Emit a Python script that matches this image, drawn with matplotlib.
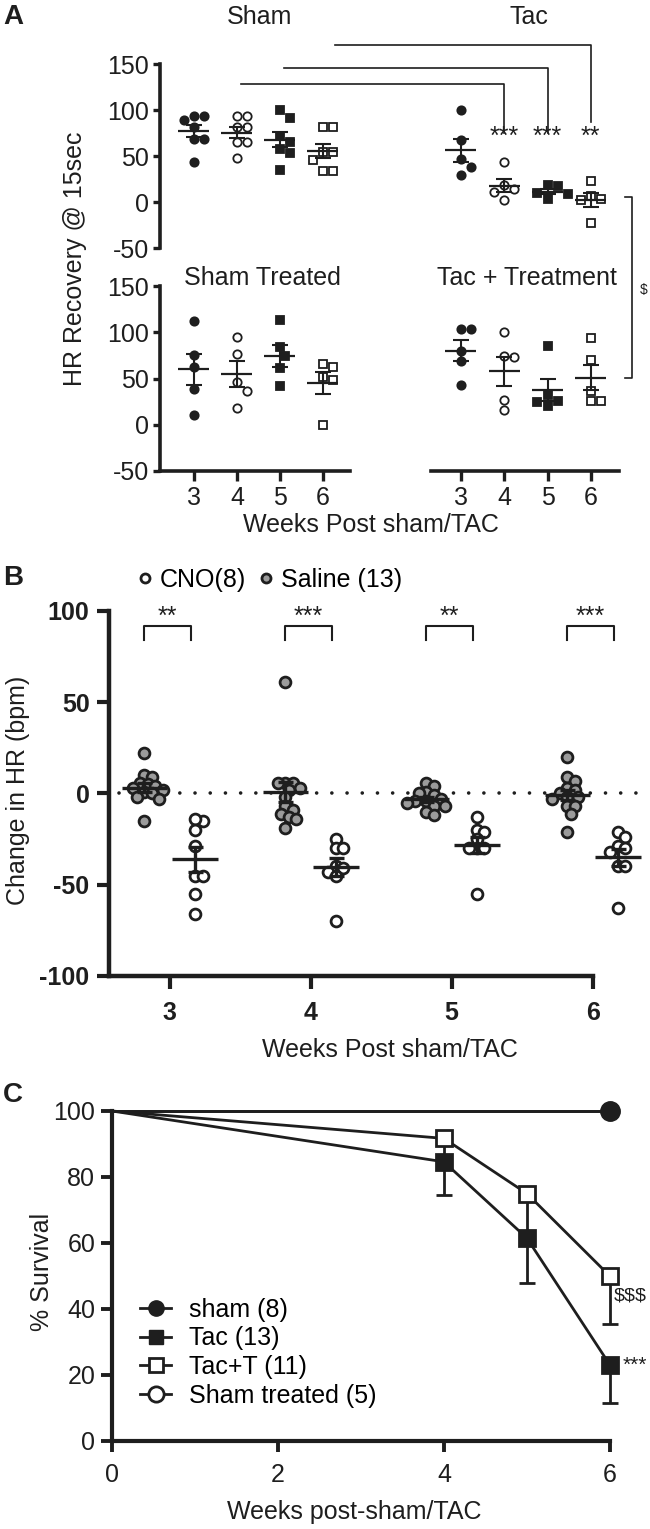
import numpy as np
import matplotlib
matplotlib.use('Agg')
import matplotlib.pyplot as plt
from matplotlib.lines import Line2D

plt.rcParams['font.family'] = ['Liberation Sans', 'DejaVu Sans']
plt.rcParams['axes.unicode_minus'] = False

# ---------------- data ----------------
weeks = [3, 4, 5, 6]

# Panel A: HR recovery @ 15 sec, one list per week
sham_hr = [[94, 94, 89, 82, 69, 69, 44],
           [94, 94, 81, 81, 65, 65, 48],
           [100, 91, 72, 65, 58, 53, 35],
           [82, 82, 54, 54, 46, 34, 34]]
tac_hr = [[100, 67, 47, 38, 29],
          [44, 18, 14, 11, 2],
          [18, 17, 10, 9, 3],
          [23, 6, 3, 2, -23]]
sham_treated_hr = [[112, 75, 62, 39, 11],
                   [95, 77, 46, 37, 18],
                   [113, 84, 74, 61, 42],
                   [66, 62, 52, 48, 0]]
tac_treat_hr = [[104, 104, 80, 69, 43],
                [100, 74, 73, 27, 16],
                [85, 32, 26, 25, 20],
                [94, 70, 37, 26, 26]]
a_titles = ['Sham', 'Tac', 'Sham Treated', 'Tac + Treatment']
a_comp_weeks = [4, 5, 6]
a_comp_stars = ['***', '***', '**']

# Panel B: change in HR
saline_dhr = [[22, 10, 9, 6, 5, 4, 3, 2, 1, 0, -2, -3, -15],
              [61, 6, 6, 6, 3, 2, -2, -7, -9, -11, -13, -14, -19],
              [6, 4, 1, 0, -1, -3, -4, -4, -5, -7, -7, -10, -12],
              [20, 9, 7, 3, 2, 0, -2, -2, -3, -7, -7, -11, -21]]
cno_dhr = [[-15, -14, -20, -29, -45, -45, -55, -66],
           [-25, -30, -30, -40, -41, -43, -45, -70],
           [-13, -20, -21, -25, -30, -30, -30, -55],
           [-21, -24, -29, -30, -32, -40, -40, -63]]
b_stars = ['**', '***', '**', '***']
b_labels = ['CNO(8)', 'Saline (13)']

# Panel C: survival
c_weeks = [0, 4, 5, 6]
tac_surv = [100, 84.6, 61.5, 23.1]
tac_err = [0, 10.0, 13.5, 11.7]
tact_surv = [100, 91.7, 75.0, 50.0]
tact_err = [0, 8.0, 12.5, 14.4]
sham_weeks = [0, 6]
sham_surv = [100, 100]
sham_treated_surv = [100, 100]
c_labels = ['sham (8)', 'Tac (13)', 'Tac+T (11)', 'Sham treated (5)']

# ---------------- layout ----------------
W, H = 650, 1529
fig = plt.figure(figsize=(W / 100, H / 100), dpi=100)
INK = '#1e1e1e'
GRAY = '#9b9b9b'


def box(x0, y0, x1, y1):
    return [x0 / W, 1 - y1 / H, (x1 - x0) / W, (y1 - y0) / H]


def fx(px):
    return px / W


def fy(py):
    return 1 - py / H


def swarm(vals, center, px_x, px_y, spacing):
    vals = np.asarray(vals, float)
    order = np.argsort(-vals)
    placed = []
    xs = np.zeros(len(vals))
    for i in order:
        y = vals[i] * px_y
        chosen = 0.0
        found = False
        for k in range(0, 30):
            cands = [0.0] if k == 0 else [k * spacing * 0.5, -k * spacing * 0.5]
            for c in cands:
                if all((c - px) ** 2 + (y - py) ** 2 >= (spacing * 0.98) ** 2 for px, py in placed):
                    chosen = c
                    found = True
                    break
            if found:
                break
        placed.append((chosen, y))
        xs[i] = center + chosen / px_x
    return xs


def to_fig(ax, x, y):
    return fig.transFigure.inverted().transform(ax.transData.transform((x, y)))


# ---------------- Panel A ----------------
axTL = fig.add_axes(box(160, 64, 350, 248))
axTR = fig.add_axes(box(431, 64, 619, 248))
axBL = fig.add_axes(box(160, 286, 350, 471))
axBR = fig.add_axes(box(431, 286, 619, 471))
for ax in (axTL, axTR, axBL, axBR):
    ax.set_ylim(-50, 150)
    ax.patch.set_alpha(0)
    for s in ax.spines.values():
        s.set_visible(False)
        s.set_linewidth(2.6)
        s.set_color(INK)
    ax.tick_params(colors=INK, labelsize=18, width=2.4, length=5, pad=3)
    ax.set_yticks([-50, 0, 50, 100, 150])
    ax.set_xticks(weeks)
for ax in (axTL, axBL):
    ax.set_xlim(2.21, 6.63)
for ax in (axTR, axBR):
    ax.set_xlim(2.31, 6.65)
axTL.spines['left'].set_visible(True)
axBL.spines['left'].set_visible(True)
axBL.spines['bottom'].set_visible(True)
axBR.spines['bottom'].set_visible(True)
axTL.tick_params(bottom=False, labelbottom=False)
axTR.tick_params(bottom=False, labelbottom=False, left=False, labelleft=False)
axBR.tick_params(left=False, labelleft=False)
for ax in (axBL, axBR):
    ax.tick_params(axis='x', length=7, pad=4)

week_style = {3: ('o', INK, 6.0), 4: ('o', 'white', 6.0), 5: ('s', INK, 5.4), 6: ('s', 'white', 5.4)}


def draw_a(ax, data):
    for w, vals in zip(weeks, data):
        mk, fc, ms = week_style[w]
        xs = swarm(vals, w, 43.0, 0.92, 10.0)
        ax.plot(xs, vals, ls='none', marker=mk, ms=ms, mfc=fc, mec=INK, mew=1.3, zorder=3, clip_on=False)
        m = np.mean(vals)
        s = np.std(vals, ddof=1) / np.sqrt(len(vals))
        ax.hlines(m, w - 0.36, w + 0.36, color=INK, lw=1.6, zorder=4)
        ax.errorbar([w], [m], yerr=[s], fmt='none', ecolor=INK, elinewidth=1.5,
                    capsize=5.8, capthick=1.5, zorder=4)


draw_a(axTL, sham_hr)
draw_a(axTR, tac_hr)
draw_a(axBL, sham_treated_hr)
draw_a(axBR, tac_treat_hr)

# comparison brackets Sham vs Tac
br_start = [4.1, 5.1, 6.28]
br_level = [128, 146, 171]
br_drop = [75, 75, 87]
for w, xs0, lv, dr, st in zip(a_comp_weeks, br_start, br_level, br_drop, a_comp_stars):
    p0 = to_fig(axTL, xs0, lv)
    p1 = to_fig(axTR, w, lv)
    p2 = to_fig(axTR, w, dr)
    fig.add_artist(Line2D([p0[0], p1[0], p2[0]], [p0[1], p1[1], p2[1]], color=INK, lw=1.2))
    axTR.text(w, 71, st, ha='center', va='center', fontsize=18, color=INK)

# $ bracket Tac vs Tac+T at week 6
q0 = to_fig(axTR, 6.78, 5)
q1 = to_fig(axTR, 6.96, 5)
q2 = to_fig(axBR, 6.96, 51)
q3 = to_fig(axBR, 6.78, 51)
fig.add_artist(Line2D([q0[0], q1[0], q2[0], q3[0]], [q0[1], q1[1], q2[1], q3[1]], color=INK, lw=1.2))
fig.text(fx(644), fy(290), '$', fontsize=10, ha='center', va='center', color=INK)

fig.text(fx(260), fy(17), a_titles[0], fontsize=18, ha='center', va='center', color=INK)
fig.text(fx(529), fy(17), a_titles[1], fontsize=18, ha='center', va='center', color=INK)
fig.text(fx(262), fy(278), a_titles[2], fontsize=18, ha='center', va='center', color=INK)
fig.text(fx(527), fy(278), a_titles[3], fontsize=18, ha='center', va='center', color=INK)
fig.text(fx(75), fy(259), 'HR Recovery @ 15sec', rotation=90, fontsize=18, ha='center', va='center', color=INK)
fig.text(fx(371), fy(525), 'Weeks Post sham/TAC', fontsize=18, ha='center', va='center', color=INK)
fig.text(fx(13), fy(17), 'A', fontsize=20, fontweight='bold', ha='center', va='center', color=INK)

# ---------------- Panel B ----------------
axB = fig.add_axes(box(109, 611, 649, 976))
axB.set_xlim(2.57, 6.4)
axB.set_ylim(-100, 100)
axB.patch.set_alpha(0)
for k in ('top', 'right'):
    axB.spines[k].set_visible(False)
for k in ('left', 'bottom'):
    axB.spines[k].set_linewidth(3.2)
    axB.spines[k].set_color(INK)
axB.spines['bottom'].set_bounds(2.57, 6.0)
axB.set_xticks(weeks)
axB.set_yticks([-100, -50, 0, 50, 100])
axB.tick_params(colors=INK, width=3, length=9, labelsize=18, pad=5)
axB.tick_params(axis='x', pad=9)
for lab in axB.get_xticklabels() + axB.get_yticklabels():
    lab.set_fontweight('bold')

axB.plot([2.64, 6.4], [0, 0], ls=(0, (0.01, 4.2)), lw=2.6, color=INK,
         dash_capstyle='round', zorder=1, clip_on=False)

for w, sv, cv, st in zip(weeks, saline_dhr, cno_dhr, b_stars):
    for vals, off, fc in ((sv, -0.18, GRAY), (cv, 0.18, 'white')):
        xs = swarm(vals, w + off, 141.0, 1.83, 7.5)
        axB.plot(xs, vals, ls='none', marker='o', ms=7.8, mfc=fc, mec=INK, mew=2.0, zorder=3, clip_on=False)
        m = np.mean(vals)
        s = np.std(vals, ddof=1) / np.sqrt(len(vals))
        axB.hlines(m, w + off - 0.16, w + off + 0.16, color=INK, lw=2.4, zorder=4)
        axB.errorbar([w + off], [m], yerr=[s], fmt='none', ecolor=INK, elinewidth=2.4,
                     capsize=5.4, capthick=2.4, zorder=4)
    axB.plot([w - 0.18, w - 0.18, w + 0.15, w + 0.15], [84, 92, 92, 84], color=INK, lw=1.5)
    axB.text(w - 0.015, 97, st, ha='center', va='center', fontsize=18, color=INK)

hB = [Line2D([], [], ls='none', marker='o', ms=6.5, mfc='white', mec=INK, mew=2.0),
      Line2D([], [], ls='none', marker='o', ms=6.5, mfc=GRAY, mec=INK, mew=2.0)]
fig.legend(hB, b_labels, loc='center left', bbox_to_anchor=(fx(137), fy(580)), ncol=2,
           frameon=False, fontsize=18, handlelength=0.6, handletextpad=0.3,
           columnspacing=0.5, borderpad=0, borderaxespad=0)
fig.text(fx(18), fy(790), 'Change in HR (bpm)', rotation=90, fontsize=18, ha='center', va='center', color=INK)
fig.text(fx(390), fy(1050), 'Weeks Post sham/TAC', fontsize=18, ha='center', va='center', color=INK)
fig.text(fx(13), fy(578), 'B', fontsize=20, fontweight='bold', ha='center', va='center', color=INK)

# ---------------- Panel C ----------------
axC = fig.add_axes(box(112, 1111, 643, 1441))
axC.set_xlim(0, 6.4)
axC.set_ylim(0, 100)
axC.patch.set_alpha(0)
for k in ('top', 'right'):
    axC.spines[k].set_visible(False)
for k in ('left', 'bottom'):
    axC.spines[k].set_linewidth(3.0)
    axC.spines[k].set_color(INK)
axC.spines['bottom'].set_bounds(0, 6)
axC.set_xticks([0, 2, 4, 6])
axC.set_yticks([0, 20, 40, 60, 80, 100])
axC.tick_params(colors=INK, width=2.8, length=8, labelsize=18, pad=4)
axC.tick_params(axis='x', pad=8)

axC.plot(sham_weeks, sham_treated_surv, color=INK, lw=2.0, marker='o', ms=13, mfc='white',
         mec=INK, mew=2, markevery=[1], clip_on=False, zorder=2)
axC.plot(sham_weeks, sham_surv, color=INK, lw=2.0, marker='o', ms=13, mfc=INK,
         mec=INK, markevery=[1], clip_on=False, zorder=3)
axC.errorbar(c_weeks[1:], tac_surv[1:], yerr=[tac_err[1:], [0] * 3], fmt='none', ecolor=INK,
             elinewidth=2.0, capsize=6, capthick=2.0, zorder=2)
axC.errorbar(c_weeks[1:], tact_surv[1:], yerr=[tact_err[1:], [0] * 3], fmt='none', ecolor=INK,
             elinewidth=2.0, capsize=6, capthick=2.0, zorder=2)
axC.plot(c_weeks, tac_surv, color=INK, lw=2.0, marker='s', ms=11.5, mfc=INK, mec=INK, mew=2,
         markevery=[1, 2, 3], clip_on=False, zorder=3)
axC.plot(c_weeks, tact_surv, color=INK, lw=2.0, marker='s', ms=11.5, mfc='white', mec=INK, mew=2,
         markevery=[1, 2, 3], clip_on=False, zorder=4)

hC = [Line2D([], [], color=INK, lw=2, marker='o', ms=11, mfc=INK, mec=INK),
      Line2D([], [], color=INK, lw=2, marker='s', ms=10, mfc=INK, mec=INK),
      Line2D([], [], color=INK, lw=2, marker='s', ms=10, mfc='white', mec=INK, mew=2),
      Line2D([], [], color=INK, lw=2, marker='o', ms=11, mfc='white', mec=INK, mew=2)]
axC.legend(hC, c_labels, loc='upper left', bbox_to_anchor=(fx(140), fy(1298)),
           bbox_transform=fig.transFigure, frameon=False, fontsize=18, handlelength=1.25,
           handletextpad=0.7, labelspacing=0.18, borderpad=0, borderaxespad=0)
axC.text(6.05, 44, '$$$', fontsize=14, ha='left', va='center', color=INK)
axC.text(6.15, 23, '***', fontsize=15, ha='left', va='center', color=INK)
fig.text(fx(42), fy(1272), '% Survival', rotation=90, fontsize=18, ha='center', va='center', color=INK)
fig.text(fx(354), fy(1512), 'Weeks post-sham/TAC', fontsize=18, ha='center', va='center', color=INK)
fig.text(fx(13), fy(1095), 'C', fontsize=20, fontweight='bold', ha='center', va='center', color=INK)

fig.savefig('out.png', dpi=100)
